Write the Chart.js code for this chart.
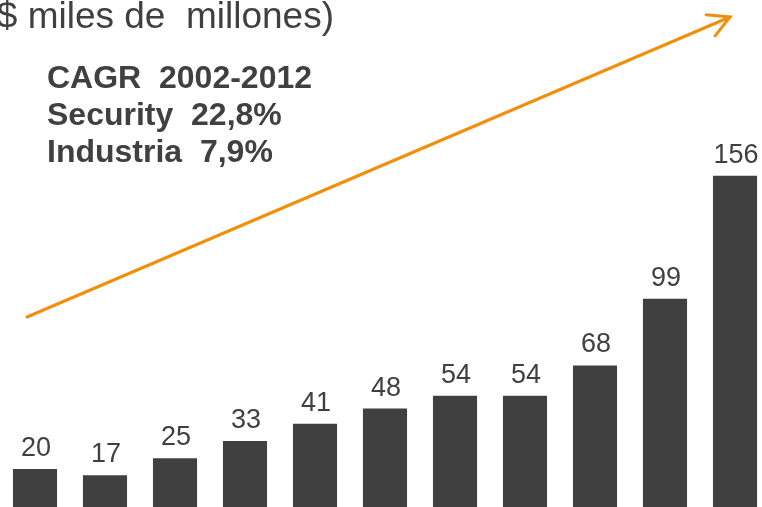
<!DOCTYPE html>
<html>
<head>
<meta charset="utf-8">
<script src="https://cdn.jsdelivr.net/npm/chart.js@4.4.0/dist/chart.umd.min.js"></script>
<style>
  html, body { margin: 0; padding: 0; background: #fff; overflow: hidden; }
  #wrap { width: 762px; height: 507px; overflow: hidden; position: relative; }
  canvas { display: block; }
</style>
</head>
<body>
<div id="wrap"><canvas id="myChart" width="772" height="512"></canvas></div>
<script>
//Chart data
var years = ['2002', '2003', '2004', '2005', '2006', '2007', '2008', '2009', '2010', '2011', '2012'];
var revenue = [20, 17, 25, 33, 41, 48, 54, 54, 68, 99, 156];

//Texts
var titleText = '(US$ miles de  millones)';
var noteLines = ['CAGR  2002-2012', 'Security  22,8%', 'Industria  7,9%'];

var darkGrey = '#404040';
var orange = '#F0900A';

//Draws value labels above bars
var valueLabels = {
  id: 'valueLabels',
  afterDatasetsDraw: function (chart) {
    var ctx = chart.ctx;
    var meta = chart.getDatasetMeta(0);
    ctx.save();
    ctx.fillStyle = darkGrey;
    ctx.font = '27px "Liberation Sans", Arial, sans-serif';
    ctx.textAlign = 'center';
    ctx.textBaseline = 'alphabetic';
    for (var i = 0; i < meta.data.length; i++) {
      var bar = meta.data[i];
      ctx.fillText(revenue[i], bar.x + 1, bar.y - 13);
    }
    ctx.restore();
  }
};

//Title, CAGR note and growth arrow
var decorations = {
  id: 'decorations',
  afterDraw: function (chart) {
    var ctx = chart.ctx;
    ctx.save();
    ctx.fillStyle = darkGrey;
    ctx.font = '37px "Liberation Sans", Arial, sans-serif';
    ctx.textAlign = 'right';
    ctx.fillText(titleText, 334, 28);

    ctx.textAlign = 'left';
    ctx.font = 'bold 32px "Liberation Sans", Arial, sans-serif';
    for (var i = 0; i < noteLines.length; i++) {
      ctx.fillText(noteLines[i], 47, 88 + i * 37);
    }

    //arrow
    var x1 = 27, y1 = 317, x2 = 730, y2 = 17;
    ctx.strokeStyle = orange;
    ctx.lineWidth = 3;
    ctx.lineCap = 'round';
    ctx.beginPath();
    ctx.moveTo(x1, y1);
    ctx.lineTo(x2, y2);
    ctx.stroke();
    var ang = Math.atan2(y2 - y1, x2 - x1);
    var len = 24;
    ctx.beginPath();
    ctx.moveTo(x2 - len * Math.cos(ang - 0.5), y2 - len * Math.sin(ang - 0.5));
    ctx.lineTo(x2, y2);
    ctx.lineTo(x2 - len * Math.cos(ang + 0.5), y2 - len * Math.sin(ang + 0.5));
    ctx.stroke();
    ctx.restore();
  }
};

var ctx = document.getElementById('myChart').getContext('2d');
var myChart = new Chart(ctx, {
  type: 'bar',
  data: {
    labels: years,
    datasets: [{
      label: 'Security',
      data: revenue,
      backgroundColor: darkGrey,
      borderWidth: 0,
      barPercentage: 0.63,
      categoryPercentage: 1
    }]
  },
  options: {
    responsive: false,
    animation: false,
    devicePixelRatio: 1,
    layout: { padding: { top: 81, left: 0, right: 2, bottom: 0 } },
    plugins: {
      legend: { display: false },
      tooltip: { enabled: false },
      title: { display: false }
    },
    scales: {
      x: { display: false },
      y: { display: false, min: 0, max: 200 }
    }
  },
  plugins: [valueLabels, decorations]
});
</script>
</body>
</html>
